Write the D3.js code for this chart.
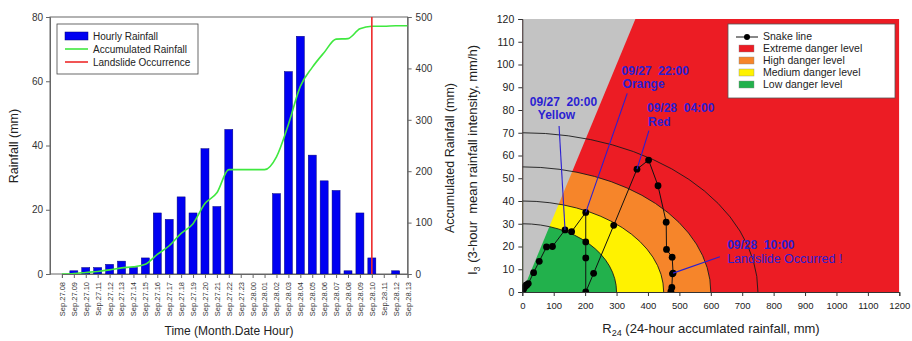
<!DOCTYPE html>
<html>
<head>
<meta charset="utf-8">
<script src="https://cdn.jsdelivr.net/npm/d3@7"></script>
<style>
  body { margin: 0; background: #fff; }
  svg { display: block; font-family: "Liberation Sans", Arial, sans-serif; }
</style>
</head>
<body>
<svg id="chart" width="912" height="341"></svg>
<script>
// ---- left panel data: hourly / accumulated rainfall ----
const hours = ["Sep.27.08","Sep.27.09","Sep.27.10","Sep.27.11","Sep.27.12","Sep.27.13","Sep.27.14","Sep.27.15",
  "Sep.27.16","Sep.27.17","Sep.27.18","Sep.27.19","Sep.27.20","Sep.27.21","Sep.27.22","Sep.27.23",
  "Sep.28.00","Sep.28.01","Sep.28.02","Sep.28.03","Sep.28.04","Sep.28.05","Sep.28.06","Sep.28.07",
  "Sep.28.08","Sep.28.09","Sep.28.10","Sep.28.11","Sep.28.12","Sep.28.13"];
const hourlyRain = [0,1,2,2,3,4,2,5,19,17,24,19,39,21,45,0,0,0,25,63,74,37,29,26,1,19,5,0,1,0];
const accumRain = [0,1,3,5,8,12,14,19,38,55,79,98,137,158,203,203,203,203,228,291,365,402,431,457,458,477,482,482,483,483];
const landslideHour = "Sep.28.10";
const rainTicks = [0,20,40,60,80];
const accumTicks = [0,100,200,300,400,500];
const leftLegend = ["Hourly Rainfall","Accumulated Rainfall","Landslide Occurrence"];

// ---- right panel data: snake line (R24, I3) ----
const snakeR24 = [0,1,3,5,8,12,14,19,36,54,77,96,136,157,202,202,202,202,227,291,365,402,432,458,459,477,480,478,476,473];
const snakeI3 = [0,0.3,1,1.7,2.3,3,3,3.7,8.5,13.5,19.8,20,27.3,26.5,35,22,15,0,8.2,29.3,54,58,46.7,30.7,18.7,15.3,8.3,8,2,0.3];
const levelNames = ["Extreme danger level","High danger level","Medium danger level","Low danger level"];
const levelR24 = [750,600,450,300];
const levelI3 = [70,55,40,30];
const limitSlope = 1/3;          // grey zone: I3 > R24/3
const r24Ticks = d3.range(0,1201,100);
const i3Ticks = d3.range(0,121,10);
const noteTime = ["09/27  20:00","09/27  22:00","09/28  04:00","09/28  10:00"];
const noteLabel = ["Yellow","Orange","Red","Landslide Occurred !"];
const noteHour = ["Sep.27.20","Sep.27.22","Sep.28.04","Sep.28.10"];

const svg = d3.select("#chart");
const noteCol = "#2b1fd2";
const levelColor = {"Extreme danger level":"#ec1c24","High danger level":"#f6852a","Medium danger level":"#fff200","Low danger level":"#22b14c"};

// =================== left panel ===================
const xL = d3.scaleLinear().domain([-1, hours.length - 1]).range([50, 407.6]);
const yL = d3.scaleLinear().domain([0, 80]).range([274, 17]);
const yR = d3.scaleLinear().domain([0, 500]).range([274, 17]);
const L = svg.append("g");

// frame
L.append("rect").attr("x", xL(-1)).attr("y", yL(80)).attr("width", xL(hours.length-1)-xL(-1))
  .attr("height", yL(0)-yL(80)).attr("fill", "none").attr("stroke", "#666").attr("stroke-width", 1);

// bars
const barW = 8;
L.selectAll("rect.bar").data(hourlyRain).enter().append("rect")
  .attr("class", "bar")
  .attr("x", (d,i) => xL(i) - barW/2)
  .attr("y", d => yL(d))
  .attr("width", barW)
  .attr("height", d => yL(0) - yL(d))
  .attr("fill", "#0000f2").attr("stroke", "#00007a").attr("stroke-width", 0.5);

// accumulated line
const accLine = d3.line().x((d,i) => xL(i)).y(d => yR(d)).curve(d3.curveMonotoneX);
L.append("path").datum(accumRain).attr("d", accLine)
  .attr("fill", "none").attr("stroke", "#3fe83f").attr("stroke-width", 1.6);

// landslide line
const li = hours.indexOf(landslideHour);
L.append("line").attr("x1", xL(li)).attr("x2", xL(li)).attr("y1", yL(80)).attr("y2", yL(0))
  .attr("stroke", "#ee2a2a").attr("stroke-width", 1.6);

// axes
const gLeft = L.append("g").attr("transform", `translate(${xL(-1)},0)`)
  .call(d3.axisLeft(yL).tickValues(rainTicks).tickSize(4).tickPadding(3));
const gRight = L.append("g").attr("transform", `translate(${xL(hours.length-1)},0)`)
  .call(d3.axisRight(yR).tickValues(accumTicks).tickSize(4).tickPadding(4));
const xBand = d3.scalePoint().domain(hours).range([xL(0), xL(hours.length-1)]);
const gBottom = L.append("g").attr("transform", `translate(0,${yL(0)})`)
  .call(d3.axisBottom(xBand).tickSize(4).tickPadding(3));
[gLeft, gRight, gBottom].forEach(g => {
  g.select(".domain").attr("stroke", "#666");
  g.selectAll(".tick line").attr("stroke", "#666");
  g.selectAll("text").attr("fill", "#333").style("font-size", "10px");
});
gBottom.selectAll("text").style("font-size", "7.5px")
  .attr("transform", "rotate(-90)").attr("text-anchor", "end")
  .attr("x", -8).attr("y", 0).attr("dy", "0.32em");

// titles
L.append("text").attr("transform", "translate(18,146) rotate(-90)").attr("text-anchor", "middle")
  .style("font-size", "12.5px").attr("fill", "#222").text("Rainfall (mm)");
L.append("text").attr("transform", "translate(454,158) rotate(-90)").attr("text-anchor", "middle")
  .style("font-size", "12.5px").attr("fill", "#222").text("Accumulated Rainfall (mm)");
L.append("text").attr("x", 229).attr("y", 335).attr("text-anchor", "middle")
  .style("font-size", "12px").attr("fill", "#222").text("Time (Month.Date Hour)");

// legend
const lg = L.append("g").attr("transform", "translate(57,24)");
lg.append("rect").attr("width", 141).attr("height", 50).attr("fill", "#fff").attr("stroke", "#444").attr("stroke-width", 0.8);
leftLegend.forEach((name, i) => {
  const yy = 12 + i * 13;
  if (i === 0) {
    lg.append("rect").attr("x", 8).attr("y", yy - 4).attr("width", 23).attr("height", 8)
      .attr("fill", "#0000f2").attr("stroke", "#00007a").attr("stroke-width", 0.5);
  } else {
    lg.append("line").attr("x1", 8).attr("x2", 31).attr("y1", yy).attr("y2", yy)
      .attr("stroke", i === 1 ? "#3fe83f" : "#ee2a2a").attr("stroke-width", 1.6);
  }
  lg.append("text").attr("x", 36).attr("y", yy).attr("dy", "0.35em")
    .style("font-size", "10px").attr("fill", "#222").text(name);
});

// =================== right panel ===================
const xS = d3.scaleLinear().domain([0, 1200]).range([522.3, 899.3]);
const yS = d3.scaleLinear().domain([0, 120]).range([292, 19]);
const R = svg.append("g");
R.append("clipPath").attr("id", "plotClip").append("rect")
  .attr("x", xS(0)).attr("y", yS(120)).attr("width", xS(1200)-xS(0)).attr("height", yS(0)-yS(120));
const P = R.append("g").attr("clip-path", "url(#plotClip)");

// extreme level fills everything, then inner ellipses on top
P.append("rect").attr("x", xS(0)).attr("y", yS(120)).attr("width", xS(1200)-xS(0)).attr("height", yS(0)-yS(120))
  .attr("fill", levelColor[levelNames[0]]);
function quarter(a, b) {
  const rx = xS(a) - xS(0), ry = yS(0) - yS(b);
  return `M${xS(0)},${yS(0)}L${xS(a)},${yS(0)}A${rx},${ry} 0 0 0 ${xS(0)},${yS(b)}Z`;
}
levelNames.forEach((name, i) => {
  if (i === 0) return;
  P.append("path").attr("d", quarter(levelR24[i], levelI3[i])).attr("fill", levelColor[name]);
});
// grey zone above the limit line
const topR = 120 / limitSlope;
P.append("path")
  .attr("d", `M${xS(0)},${yS(0)}L${xS(topR)},${yS(120)}L${xS(0)},${yS(120)}Z`)
  .attr("fill", "#c3c3c3");
// boundary arcs
levelR24.forEach((a, i) => {
  const b = levelI3[i];
  const rx = xS(a) - xS(0), ry = yS(0) - yS(b);
  P.append("path").attr("d", `M${xS(a)},${yS(0)}A${rx},${ry} 0 0 0 ${xS(0)},${yS(b)}`)
    .attr("fill", "none").attr("stroke", "#1a1a1a").attr("stroke-width", 0.9);
});

// snake line
const snake = snakeR24.map((r, i) => [r, snakeI3[i]]);
P.append("path").datum(snake)
  .attr("d", d3.line().x(d => xS(d[0])).y(d => yS(d[1])))
  .attr("fill", "none").attr("stroke", "#111").attr("stroke-width", 1);
P.selectAll("circle.pt").data(snake).enter().append("circle").attr("class", "pt")
  .attr("cx", d => xS(d[0])).attr("cy", d => yS(d[1])).attr("r", 3.4).attr("fill", "#000");

// axes
const gSY = R.append("g").attr("transform", `translate(${xS(0)},0)`)
  .call(d3.axisLeft(yS).tickValues(i3Ticks).tickSize(4).tickPadding(4).tickFormat(d3.format("d")));
const gSX = R.append("g").attr("transform", `translate(0,${yS(0)})`)
  .call(d3.axisBottom(xS).tickValues(r24Ticks).tickSize(4).tickPadding(6).tickFormat(d3.format("d")));
[gSY, gSX].forEach(g => {
  g.select(".domain").attr("stroke", "#333");
  g.selectAll(".tick line").attr("stroke", "#333");
  g.selectAll("text").attr("fill", "#222").style("font-size", "10.5px");
});
gSX.selectAll("text").style("font-size", "9.5px");

// annotations (text placed in data units, pointer from text to the snake point)
const notePlace = [
  {r: 24, i: 81.8, dx: 8, pr: 117, pi: 73},
  {r: 316, i: 95.6, dx: 1, pr: 334, pi: 87.3},
  {r: 397, i: 79.1, dx: 1, pr: 403, pi: 70.9},
  {r: 652, i: 18.9, dx: 0, pr: 629, pi: 15.5}
];
noteTime.forEach((t, k) => {
  const p = notePlace[k];
  const idx = hours.indexOf(noteHour[k]);
  R.append("line").attr("x1", xS(p.pr)).attr("y1", yS(p.pi))
    .attr("x2", xS(snakeR24[idx])).attr("y2", yS(snakeI3[idx]))
    .attr("stroke", noteCol).attr("stroke-width", 1.1);
  R.append("text").attr("x", xS(p.r)).attr("y", yS(p.i)).style("font-size", "12px")
    .style("font-weight", "bold").attr("fill", noteCol).attr("xml:space", "preserve").text(t);
  R.append("text").attr("x", xS(p.r) + p.dx).attr("y", yS(p.i) + 13.5)
    .style("font-size", k === 3 ? "12.5px" : "12px").style("font-weight", k === 3 ? "normal" : "bold")
    .attr("fill", noteCol).text(noteLabel[k]);
});

// titles with subscripts
const ty = R.append("text").attr("transform", "translate(477,160) rotate(-90)").attr("text-anchor", "middle")
  .style("font-size", "13px").attr("fill", "#222").attr("xml:space", "preserve");
ty.append("tspan").text("I");
ty.append("tspan").attr("dy", 3).style("font-size", "9px").text("3");
ty.append("tspan").attr("dy", -3).text(" (3-hour  mean rainfall intensity, mm/h)");
const tx = R.append("text").attr("x", 711).attr("y", 333).attr("text-anchor", "middle")
  .style("font-size", "13px").attr("fill", "#222");
tx.append("tspan").text("R");
tx.append("tspan").attr("dy", 3).style("font-size", "9px").text("24");
tx.append("tspan").attr("dy", -3).text(" (24-hour accumlated rainfall, mm)");

// legend
const rg = R.append("g").attr("transform", "translate(728,24)");
rg.append("rect").attr("width", 167).attr("height", 74).attr("fill", "#fff").attr("stroke", "#555").attr("stroke-width", 0.8);
["Snake line"].concat(levelNames).forEach((name, i) => {
  const yy = 15 + i * 12;
  if (i === 0) {
    rg.append("line").attr("x1", 8).attr("x2", 30).attr("y1", yy - 2).attr("y2", yy - 2).attr("stroke", "#111");
    rg.append("circle").attr("cx", 19).attr("cy", yy - 2).attr("r", 3).attr("fill", "#000");
  } else {
    rg.append("rect").attr("x", 11).attr("y", yy - 6).attr("width", 15).attr("height", 7)
      .attr("fill", levelColor[name]).attr("stroke", "#888").attr("stroke-width", 0.4);
  }
  rg.append("text").attr("x", 35).attr("y", yy).attr("dy", "0.1em")
    .style("font-size", "10.5px").attr("fill", "#222").text(name);
});
</script>
</body>
</html>
